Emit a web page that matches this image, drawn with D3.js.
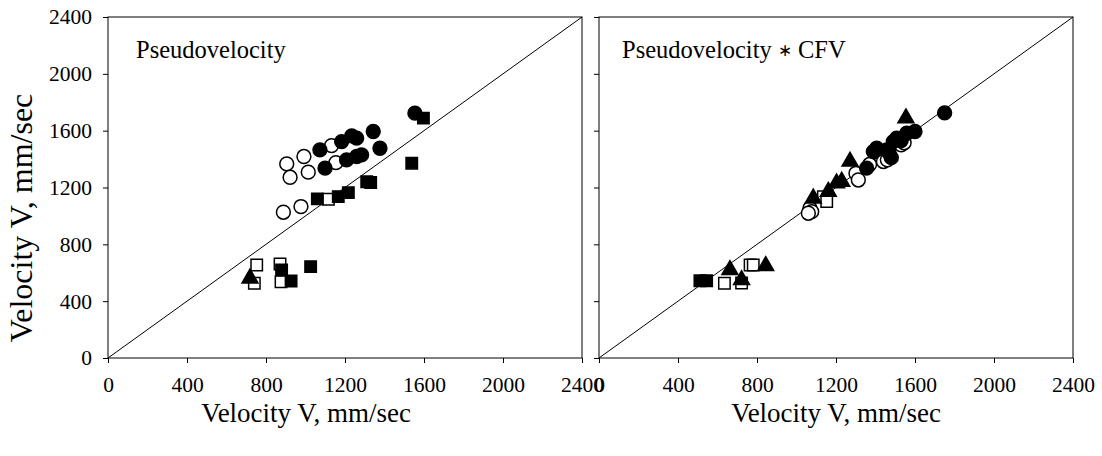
<!DOCTYPE html>
<html><head><meta charset="utf-8">
<script src="https://cdn.jsdelivr.net/npm/d3@7"></script>
<style>body{margin:0;background:#fff}svg{display:block}text{font-family:"Liberation Serif","Times New Roman",serif;fill:#000}</style>
</head><body><svg id="c" width="1102" height="456"></svg>
<script>
const xTicks = [0,400,800,1200,1600,2000,2400];
const yTicks = [0,400,800,1200,1600,2000,2400];
const panelTitles = [["Pseudovelocity"],["Pseudovelocity ","\u2217"," CFV"]];
const axisTitle = "Velocity V, mm/sec";

// Left panel: Pseudovelocity
const L_filledCircle = [[1343,1594],[1377,1476],[1234,1563],[1259,1547],[1183,1523],[1073,1465],[1099,1336],[1208,1394],[1259,1418],[1284,1430],[1554,1723]];
const L_openCircle = [[905,1366],[992,1418],[922,1272],[1014,1308],[1132,1495],[1154,1375],[888,1026],[977,1066]];
const L_filledSquare = [[1060,1120],[1166,1136],[1217,1164],[1310,1240],[1330,1235],[1026,643],[879,620],[927,542],[1538,1371],[1597,1688]];
const L_openSquare = [[753,655],[871,662],[741,526],[876,537],[1116,1117]];
const L_filledTriangle = [[719,561]];

// Right panel: Pseudovelocity * CFV
const R_filledCircle = [[1750,1725],[1600,1594],[1558,1582],[1507,1547],[1490,1523],[1457,1465],[1406,1477],[1389,1453],[1355,1336],[1470,1440],[1530,1530],[1480,1410]];
const R_openCircle = [[1440,1383],[1460,1395],[1530,1500],[1301,1300],[1313,1253],[1068,1054],[1077,1030],[1370,1362],[1545,1515],[1060,1019]];
const R_filledSquare = [[511,544],[545,544]];
const R_openSquare = [[1136,1136],[1153,1101],[635,526],[722,528],[765,655],[781,655]];
const R_filledTriangle = [[1554,1688],[1271,1383],[1229,1242],[1203,1230],[1161,1171],[1085,1124],[663,620],[722,549],[844,648]];

const svg = d3.select("#c");
const panels = [
  {x0:108, sets:[[L_openCircle,"circle",false],[L_filledCircle,"circle",true],[L_openSquare,"square",false],[L_filledSquare,"square",true],[L_filledTriangle,"triangle",true]], showY:true, titleX:136, axisTitleX:306},
  {x0:599, sets:[[R_openSquare,"square",false],[R_filledSquare,"square",true],[R_openCircle,"circle",false],[R_filledCircle,"circle",true],[R_filledTriangle,"triangle",true]], showY:false, titleX:622, axisTitleX:836}
];
const W = 474, plotTop = 17, plotBottom = 358;
const y = d3.scaleLinear().domain([0,2400]).range([plotBottom, plotTop]);

panels.forEach((p, i) => {
  const x = d3.scaleLinear().domain([0,2400]).range([p.x0, p.x0 + W]);
  const g = svg.append("g");
  g.append("rect").attr("x", p.x0).attr("y", plotTop).attr("width", W).attr("height", plotBottom - plotTop)
    .attr("fill","none").attr("stroke","#000").attr("stroke-width",1);
  const xa = g.append("g").attr("transform", `translate(0,${plotBottom})`)
    .call(d3.axisBottom(x).tickValues(xTicks).tickSize(5).tickPadding(14).tickFormat(d3.format("d")));
  xa.select(".domain").remove();
  xa.selectAll("text").style("font-size","21.5px");
  const ya = g.append("g").attr("transform", `translate(${p.x0},0)`)
    .call(d3.axisLeft(y).tickValues(yTicks).tickSize(5).tickPadding(11).tickFormat(p.showY ? d3.format("d") : ""));
  ya.select(".domain").remove();
  ya.selectAll("text").style("font-size","21.5px");
  g.append("line").attr("x1", x(0)).attr("y1", y(0)).attr("x2", x(2400)).attr("y2", y(2400))
    .attr("stroke","#000").attr("stroke-width",1);
  const sym = {circle:d3.symbolCircle, square:d3.symbolSquare, triangle:d3.symbolTriangle};
  const size = {circle:150, square:130, triangle:110};
  p.sets.forEach(([data, shape, filled]) => {
    g.selectAll(null).data(data).enter().append("path")
      .attr("d", d3.symbol().type(sym[shape]).size(size[shape]))
      .attr("transform", d => `translate(${x(d[0])},${y(d[1])})`)
      .attr("fill", filled ? "#000" : "#fff")
      .attr("stroke","#000").attr("stroke-width",1.5);
  });
  const t = g.append("text").attr("x", p.titleX).attr("y", 58).style("font-size","24.5px");
  panelTitles[i].forEach(s => {
    const ts = t.append("tspan").text(s);
    if (s === "\u2217") ts.style("font-size","17px").style("font-weight","300").attr("dy", -2);
    else if (s === " CFV") ts.attr("dy", 2);
  });
  g.append("text").attr("x", p.axisTitleX).attr("y", 422).attr("text-anchor","middle").style("font-size","27px").text(axisTitle);
});
svg.append("text").attr("transform","translate(32,218) rotate(-90)").attr("text-anchor","middle").style("font-size","32px").text(axisTitle);
</script></body></html>
